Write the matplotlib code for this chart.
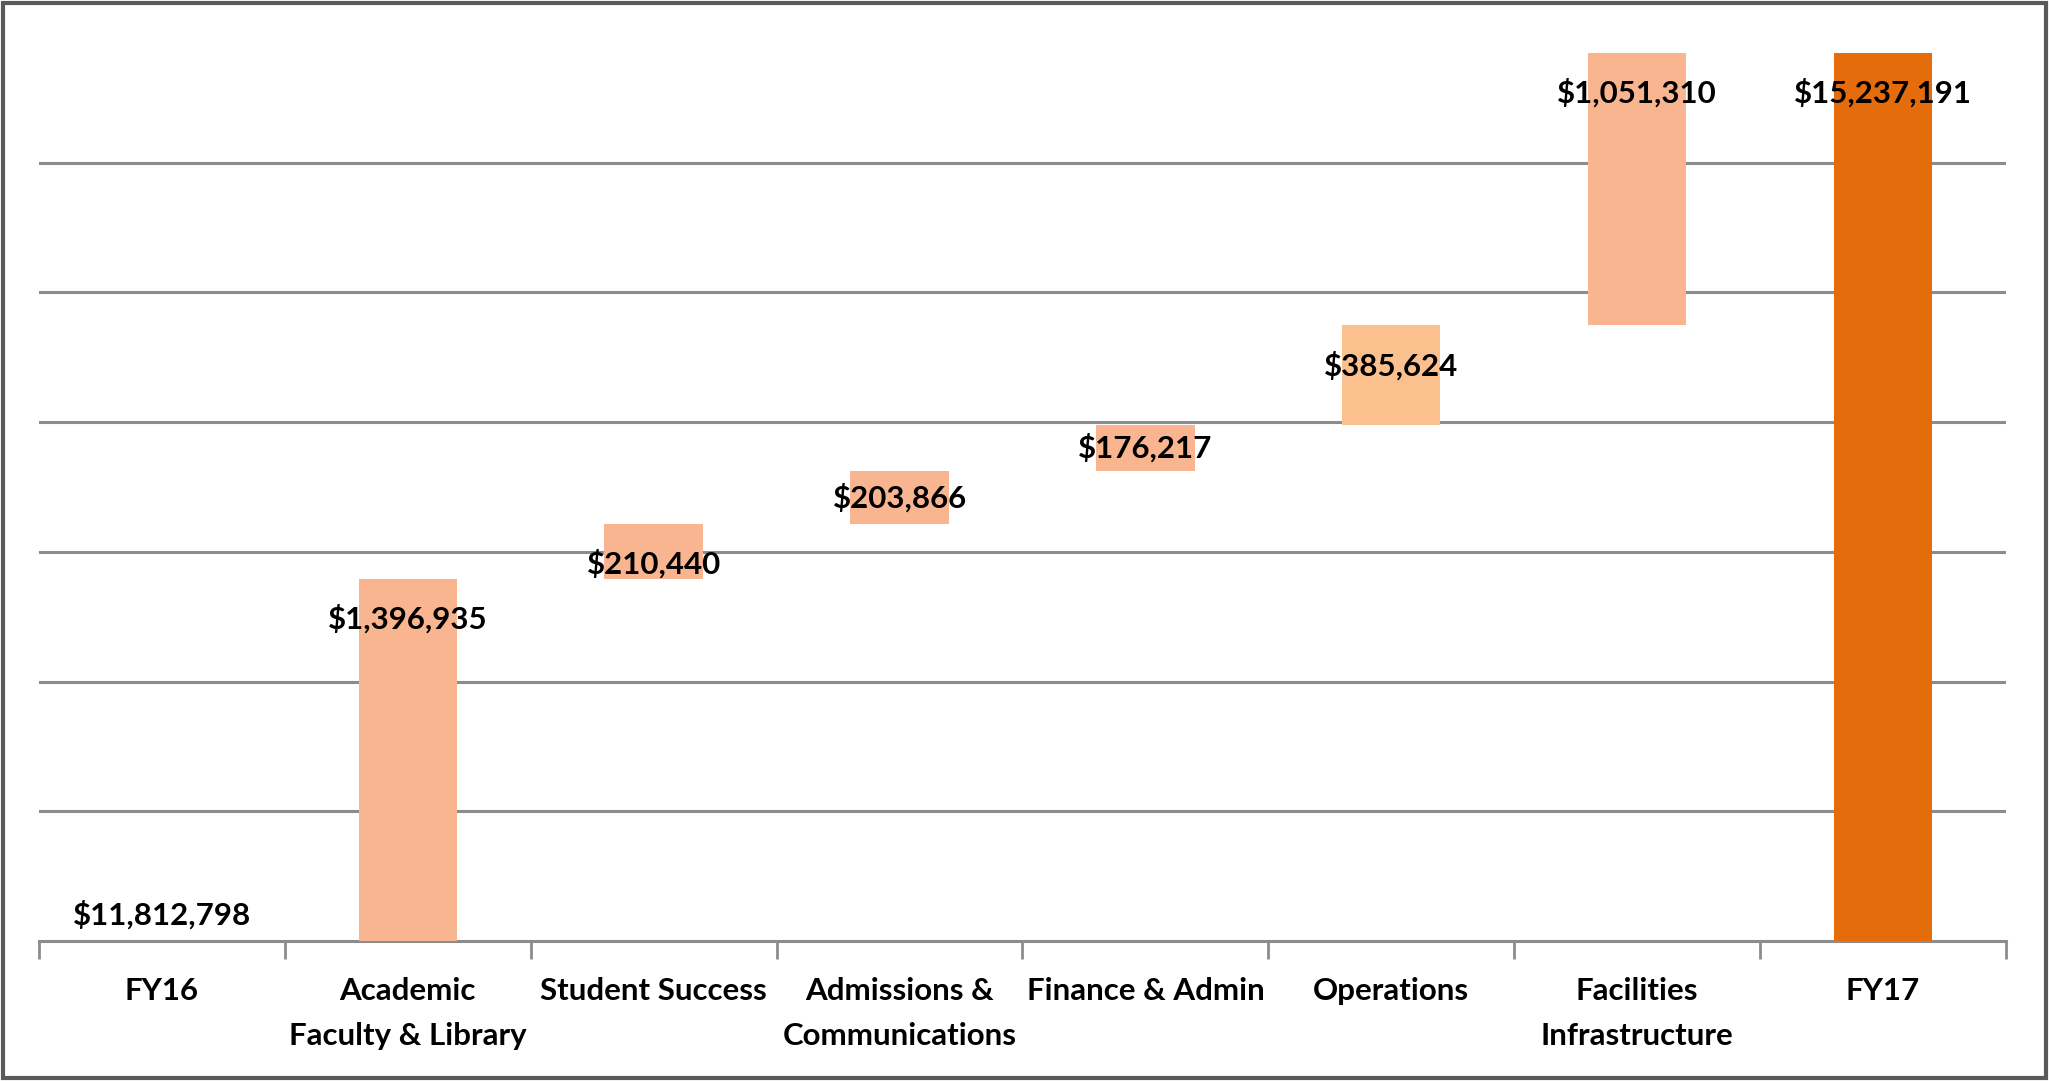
import numpy as np
import matplotlib
matplotlib.use("Agg")
import matplotlib.pyplot as plt
from matplotlib.patches import Rectangle

plt.rcParams['font.family'] = ['Lato', 'DejaVu Sans']

# categories and values
categories = ["FY16", "Academic\nFaculty & Library", "Student Success",
              "Admissions &\nCommunications", "Finance & Admin", "Operations",
              "Facilities\nInfrastructure", "FY17"]
fy16_total = 11812798
increments = [1396935, 210440, 203866, 176217, 385624, 1051310]
fy17_total = 15237191

# where Excel put each data label
label_modes = ["above", "end", "end", "center", "center", "end", "end", "end"]

inc_colors = ["#F9B590", "#F9B590", "#F9B590", "#F9B590", "#FAC18F", "#F9B590"]
total_color = "#E46C0A"

# build waterfall
cum = fy16_total + np.cumsum([0] + increments)
bottoms = [0] + list(cum[:-1]) + [0]
heights = [fy16_total] + increments + [fy17_total]
colors = [total_color] + inc_colors + [total_color]
tops = [b + h for b, h in zip(bottoms, heights)]

fig = plt.figure(figsize=(20.49, 10.81), dpi=100)
ax = fig.add_axes([0.019, 0.1295, 0.96, 0.837])

x = np.arange(len(categories))
ax.bar(x, heights, bottom=bottoms, width=0.4, color=colors, zorder=3)

ymin = fy16_total
ax.set_ylim(ymin, 15300000)
ax.set_xlim(-0.5, len(categories) - 0.5)

# gridlines every 500k from the axis minimum
grid_vals = np.arange(ymin + 500000, 15300000, 500000)
ax.set_yticks(grid_vals)
ax.yaxis.grid(True, color="#8C8C8C", linewidth=2.2, zorder=0)
ax.tick_params(axis='y', left=False, labelleft=False)

for s in ["top", "right", "left"]:
    ax.spines[s].set_visible(False)
ax.spines["bottom"].set_color("#8C8C8C")
ax.spines["bottom"].set_linewidth(2.2)

# tick marks at category boundaries, labels at centres
ax.set_xticks(np.arange(len(categories) + 1) - 0.5)
ax.set_xticklabels([])
ax.tick_params(axis='x', which='major', length=13, width=2, color="#8C8C8C")
ax.set_xticks(x, minor=True)
ax.set_xticklabels(categories, minor=True, fontsize=22.5, fontweight='bold',
                   linespacing=1.75, va='top')
ax.tick_params(axis='x', which='minor', length=0, pad=26)

value_labels = [fy16_total] + increments + [fy17_total]
for i, v in enumerate(value_labels):
    txt = "${:,}".format(v)
    mode = label_modes[i]
    if mode == "above":
        y, off = tops[i], 19
    elif mode == "end":
        y, off = tops[i], -29
    else:
        y, off = bottoms[i] + heights[i] / 2, 0
    ax.annotate(txt, (x[i], y), xytext=(0, off), textcoords='offset points',
                ha='center', va='center', fontsize=22.5, fontweight='bold',
                color='black', zorder=5)

# outer chart border
fig.patches.append(Rectangle((0.0015, 0.0025), 0.997, 0.995, transform=fig.transFigure,
                             fill=False, edgecolor="#5A5A5A", linewidth=3))

plt.savefig("out.png", dpi=100)
